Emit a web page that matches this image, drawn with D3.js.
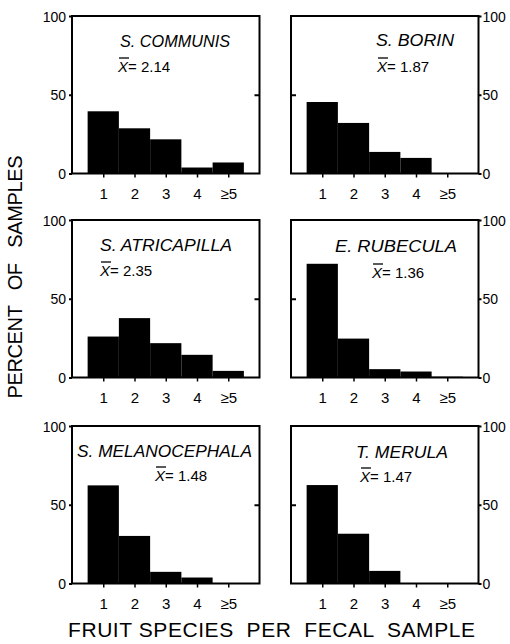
<!DOCTYPE html>
<html>
<head>
<meta charset="utf-8">
<script src="https://cdn.jsdelivr.net/npm/d3@7"></script>
<style>
  body { margin: 0; background: #fff; }
  svg { display: block; }
  text { font-family: "Liberation Sans", Arial, sans-serif; fill: #000; }
  .title { white-space: pre; }
</style>
</head>
<body>
<svg id="chart" width="510" height="644"></svg>
<script>
// values (percent of fecal samples)
const species = ['S. COMMUNIS', 'S. BORIN', 'S. ATRICAPILLA', 'E. RUBECULA', 'S. MELANOCEPHALA', 'T. MERULA']
const means = ['2.14', '1.87', '2.35', '1.36', '1.48', '1.47']
const categories = ['1', '2', '3', '4', '≥5']
const communis = [39.5, 28.7, 21.7, 3.8, 7]
const borin = [45.4, 32.1, 13.7, 9.9, 0]
const atricapilla = [26, 37.7, 21.8, 14.4, 4.2]
const rubecula = [72.2, 24.7, 5.3, 3.8, 0.5]
const melanocephala = [62.3, 30.2, 7.4, 3.8, 0]
const merula = [62.5, 31.6, 8.0, 0, 0]
const yTicks = [0, 50, 100]

const series = [communis, borin, atricapilla, rubecula, melanocephala, merula]

const svg = d3.select('#chart')
const W = 187.5
const H = 157.5
const colX = [72, 291]
const rowY = [16, 220, 426]

// label placement inside each panel: [titleX, titleY, titleLen, meanX, meanY]
const labelPos = [
  [48, 31, 110, 46, 56],
  [85, 30, 78, 86, 56],
  [28, 31, 132, 28, 56],
  [44, 32, 122, 81, 58],
  [5, 31, 175, 83, 55],
  [65, 32, 92, 69, 56]
]

const x = d3.scaleLinear().domain([0, 6]).range([0, W])
const y = d3.scaleLinear().domain([0, 100]).range([H, 0])

species.forEach((name, i) => {
  const col = i % 2
  const row = Math.floor(i / 2)
  const g = svg.append('g').attr('transform', `translate(${colX[col]},${rowY[row]})`)
  const values = series[i]

  // bars
  g.selectAll('rect.bar')
    .data(values)
    .enter()
    .append('rect')
    .attr('class', 'bar')
    .attr('x', (d, k) => x(k + 0.5))
    .attr('width', x(1) - x(0))
    .attr('y', d => y(d))
    .attr('height', d => y(0) - y(d))
    .attr('fill', '#000')

  // frame
  g.append('rect')
    .attr('width', W).attr('height', H)
    .attr('fill', 'none').attr('stroke', '#000').attr('stroke-width', 2)

  // outer y axis with labels
  const outer = col === 0 ? d3.axisLeft(y) : d3.axisRight(y)
  const og = g.append('g')
    .attr('transform', col === 0 ? 'translate(0,0)' : `translate(${W},0)`)
    .call(outer.tickValues(yTicks).tickSize(3).tickPadding(3).tickFormat(d3.format('d')))
  og.select('.domain').remove()
  og.selectAll('line').attr('stroke-width', 2)
  og.selectAll('text').attr('font-size', 14).attr('dy', '0.36em')
    .attr('x', col === 0 ? -6 : 4)

  // inner tick at 50
  const inner = col === 0 ? d3.axisLeft(y) : d3.axisRight(y)
  const ig = g.append('g')
    .attr('transform', col === 0 ? `translate(${W},0)` : 'translate(0,0)')
    .call(inner.tickValues([50]).tickSize(5).tickFormat(''))
  ig.select('.domain').remove()
  ig.selectAll('line').attr('stroke-width', 2)

  // x axis
  const xg = g.append('g')
    .attr('transform', `translate(0,${H})`)
    .call(d3.axisBottom(x).tickValues([1, 2, 3, 4, 5])
      .tickSize(4).tickPadding(10)
      .tickFormat(d => categories[d - 1]))
  xg.select('.domain').remove()
  xg.selectAll('line').attr('stroke-width', 1.5)
  xg.selectAll('text').attr('font-size', 15).attr('dy', '0.75em')

  const p = labelPos[i]
  g.append('text')
    .attr('x', p[0]).attr('y', p[1])
    .attr('font-size', 16).attr('font-style', 'italic')
    .attr('textLength', p[2]).attr('lengthAdjust', 'spacingAndGlyphs')
    .text(name)

  const m = g.append('text')
    .attr('x', p[3]).attr('y', p[4])
    .attr('font-size', 15)
  m.append('tspan').attr('font-style', 'italic').text('X')
  m.append('tspan').text('= ' + means[i])
  g.append('line')
    .attr('x1', p[3] + 1).attr('x2', p[3] + 11)
    .attr('y1', p[4] - 14).attr('y2', p[4] - 14)
    .attr('stroke', '#000').attr('stroke-width', 1.3)
})

// axis titles
svg.append('text')
  .attr('class', 'title')
  .attr('transform', 'translate(22,277) rotate(-90)')
  .attr('text-anchor', 'middle')
  .attr('font-size', 20)
  .attr('textLength', 243).attr('lengthAdjust', 'spacing')
  .text('PERCENT   OF   SAMPLES')

svg.append('text')
  .attr('class', 'title')
  .attr('x', 271.5).attr('y', 637)
  .attr('text-anchor', 'middle')
  .attr('font-size', 21)
  .attr('textLength', 407).attr('lengthAdjust', 'spacing')
  .text('FRUIT SPECIES  PER  FECAL  SAMPLE')
</script>
</body>
</html>
